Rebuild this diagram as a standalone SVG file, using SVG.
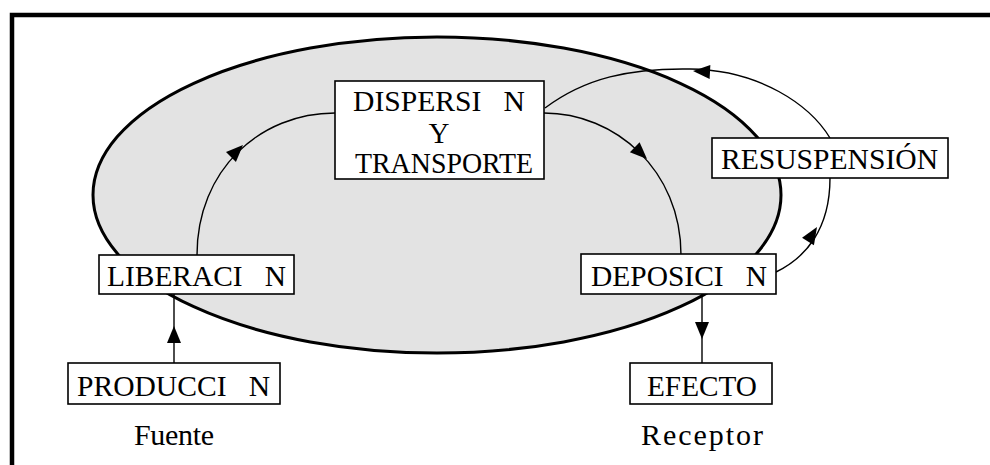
<svg xmlns="http://www.w3.org/2000/svg" width="990" height="465" viewBox="0 0 990 465">
  <style>
    .box { fill: #ffffff; stroke: #000000; stroke-width: 1.6; }
    .lbl { font-family: "Liberation Serif", "Times New Roman", serif; font-size: 29px; fill: #000000; white-space: pre; }
    .cap { font-family: "Liberation Serif", "Times New Roman", serif; font-size: 30px; fill: #000000; }
    .edge { fill: none; stroke: #000000; stroke-width: 1.4; }
  </style>
  <defs>
    <path id="ah" d="M0,0 L-17,-7 L-17,7 Z" fill="#000000"/>
  </defs>

  <rect width="990" height="465" fill="#ffffff"/>

  <!-- outer frame (top and left edges) -->
  <path d="M12,465 L12,15 L990,15" fill="none" stroke="#000000" stroke-width="4.5" stroke-linejoin="miter"/>

  <!-- shaded region -->
  <ellipse cx="437" cy="195" rx="344" ry="158" fill="#e3e3e3" stroke="#000000" stroke-width="3"/>

  <!-- connectors -->
  <g id="connectors">
    <path class="edge" d="M197,255 C197,170 260,113 335,113"/>
    <use href="#ah" transform="translate(243,145) rotate(-45)"/>

    <path class="edge" d="M544,113 C615,113 681,170 681,255"/>
    <use href="#ah" transform="translate(647,159) rotate(44)"/>

    <path class="edge" d="M545,108 C585,78 630,68 690,69 C760,70 810,105 830,138"/>
    <use href="#ah" transform="translate(693,71) rotate(183)"/>

    <path class="edge" d="M776,272 C805,258 830,230 830,178"/>
    <use href="#ah" transform="translate(817,227) rotate(-58)"/>

    <line class="edge" x1="174" y1="363" x2="174" y2="294"/>
    <use href="#ah" transform="translate(174,326) rotate(-90)"/>

    <line class="edge" x1="702" y1="294" x2="702" y2="363"/>
    <use href="#ah" transform="translate(702,339) rotate(90)"/>
  </g>

  <!-- nodes -->
  <g id="dispersion">
    <rect class="box" x="335" y="81" width="209" height="98"/>
    <text class="lbl" x="353" y="111" textLength="172" lengthAdjust="spacingAndGlyphs" xml:space="preserve">DISPERSI   N</text>
    <text class="lbl" x="439" y="143" text-anchor="middle">Y</text>
    <text class="lbl" x="355" y="173" textLength="178" lengthAdjust="spacingAndGlyphs">TRANSPORTE</text>
  </g>

  <g id="liberacion">
    <rect class="box" x="99" y="255" width="195" height="39"/>
    <text class="lbl" x="107" y="286" textLength="179" lengthAdjust="spacingAndGlyphs" xml:space="preserve">LIBERACI   N</text>
  </g>

  <g id="produccion">
    <rect class="box" x="68" y="363" width="212" height="41"/>
    <text class="lbl" x="77" y="396" textLength="193" lengthAdjust="spacingAndGlyphs" xml:space="preserve">PRODUCCI   N</text>
  </g>

  <g id="deposicion">
    <rect class="box" x="581" y="254" width="195" height="40"/>
    <text class="lbl" x="591" y="286" textLength="176" lengthAdjust="spacingAndGlyphs" xml:space="preserve">DEPOSICI   N</text>
  </g>

  <g id="efecto">
    <rect class="box" x="630" y="363" width="142" height="41"/>
    <text class="lbl" x="647" y="396" textLength="110" lengthAdjust="spacingAndGlyphs">EFECTO</text>
  </g>

  <g id="resuspension">
    <rect class="box" x="712" y="138" width="236" height="40"/>
    <text class="lbl" x="721" y="169" textLength="217" lengthAdjust="spacingAndGlyphs">RESUSPENSIÓN</text>
  </g>

  <g id="fuente">
    <text class="cap" x="134" y="445" textLength="80" lengthAdjust="spacing">Fuente</text>
  </g>

  <g id="receptor">
    <text class="cap" x="641" y="445" textLength="122" lengthAdjust="spacing">Receptor</text>
  </g>
</svg>
